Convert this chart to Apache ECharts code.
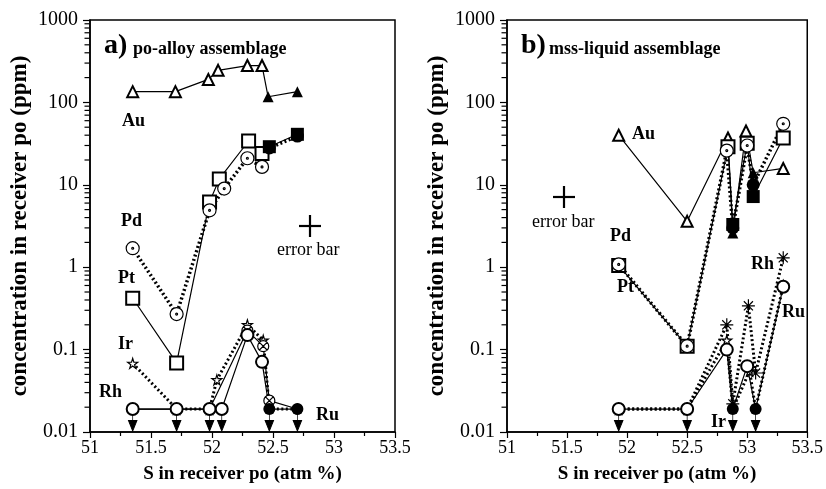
<!DOCTYPE html>
<html>
<head>
<meta charset="utf-8">
<script src="https://cdn.jsdelivr.net/npm/echarts@6/dist/echarts.min.js"></script>
<style>html,body{margin:0;padding:0;background:#fff}#main{width:826px;height:489px}</style>
</head>
<body>
<div id="main"></div>
<script>
// [S atm %, ppm, filled?]
var auA = [[51.35,135,0],[51.70,135,0],[51.97,190,0],[52.05,245,0],[52.29,280,0],[52.41,280,0],[52.46,117,1],[52.70,135,1]];
var ptA = [[51.35,0.42,0],[51.71,0.069,0],[51.98,6.2,0],[52.06,11.8,0],[52.30,34,0],[52.41,24,0],[52.47,29,1],[52.70,41,1]];
var pdA = [[51.35,1.7,0],[51.71,0.27,0],[51.98,4.9,0],[52.10,9.0,0],[52.29,21,0],[52.41,16.5,0],[52.47,28,1],[52.70,39,1]];
var irA = [[51.35,0.068,0],[51.71,0.019,0],[51.98,0.019,0],[52.04,0.043,0],[52.29,0.20,0],[52.42,0.13,0],[52.47,0.019,1],[52.70,0.019,1]];
var rhA = [[51.35,0.019,0],[51.71,0.019,0],[51.98,0.019,0],[52.29,0.17,0],[52.42,0.11,0],[52.47,0.024,0],[52.70,0.019,1]];
var ruA = [[51.35,0.019,0],[51.71,0.019,0],[51.98,0.019,0],[52.08,0.019,0],[52.29,0.15,0],[52.41,0.071,0],[52.47,0.019,1],[52.70,0.019,1]];

var auB = [[51.93,40,0],[52.50,3.6,0],[52.84,37,0],[52.88,2.6,1],[52.99,45,0],[53.05,14,1],[53.30,15.8,0]];
var ptB = [[51.93,1.05,0],[52.50,0.11,0],[52.84,29,0],[52.88,3.3,1],[53.00,32,0],[53.05,7.2,1],[53.30,37,0]];
var pdB = [[51.93,1.08,0],[52.50,0.11,0],[52.83,26,0],[52.88,3.0,1],[53.00,30,0],[53.05,10,1],[53.30,55,0]];
var rhB = [[51.93,0.019,0],[52.50,0.019,0],[52.83,0.20,0],[52.88,0.022,0],[53.01,0.34,0],[53.07,0.052,0],[53.30,1.3,0]];
var ruB = [[51.93,0.019,0],[52.50,0.019,0],[52.83,0.10,0],[52.88,0.019,1],[53.00,0.063,0],[53.07,0.019,1],[53.30,0.58,0]];
var irB = [[51.93,0.019,0],[52.50,0.019,0],[52.83,0.13,0],[52.88,0.019,1],[53.02,0.055,0],[53.07,0.019,1],[53.30,0.60,0]];

// below-detection arrows
var arrowsA = [51.35, 51.71, 51.98, 52.08, 52.47, 52.70];
var arrowsB = [51.93, 52.50, 52.88, 53.07];
var arrowLevel = 0.014;

var minorY = [];
[0.01, 0.1, 1, 10, 100].forEach(function (d) {
  for (var k = 2; k <= 9; k++) minorY.push(+(d * k).toPrecision(3));
});

var FONT = 'Liberation Serif';
var STAR = 'path://M50,0 L61,35 L98,35 L68,57 L79,91 L50,70 L21,91 L32,57 L2,35 L39,35 Z';
var XCIRC = 'path://M20,10 A10,10 0 1,1 0,10 A10,10 0 1,1 20,10 Z M3,3 L17,17 M17,3 L3,17';
var DOTCIRC = 'path://M20,10 A10,10 0 1,1 0,10 A10,10 0 1,1 20,10 Z M11.5,10 A1.5,1.5 0 1,1 8.5,10 A1.5,1.5 0 1,1 11.5,10 Z';
var ASTER = 'path://M0,10 L20,10 M10,0 L10,20 M3,3 L17,17 M17,3 L3,17';
var ARROW = 'path://M4,0 L4,12 M0,12 L8,12 L4,22 Z';
var TICK = 'path://M0,0 L10,0 L10,2 L0,2 Z';

function mk(pts, g, sym, symF, size, line, hollowPath) {
  return {
    type: 'line', xAxisIndex: g, yAxisIndex: g,
    showAllSymbol: true, symbolSize: size,
    lineStyle: line,
    itemStyle: { color: '#000', opacity: 1 },
    data: pts.map(function (p) {
      var it = { value: [p[0], p[1]], symbol: p[2] ? symF : sym };
      if (!p[2] && hollowPath) it.itemStyle = { color: '#fff', borderColor: '#000', borderWidth: 1.2 };
      return it;
    }),
    z: 3
  };
}

var solid = { color: '#000', width: 1.2, type: 'solid' };
var dots = { color: '#000', width: 3.5, type: [2, 2.5] };
var dots2 = { color: '#000', width: 3, type: [2, 2.5] };

function arrows(xs, g) {
  return {
    type: 'scatter', xAxisIndex: g, yAxisIndex: g, symbol: ARROW, symbolSize: [8, 22],
    itemStyle: { color: '#000', borderColor: '#000', borderWidth: 1.2, opacity: 1 },
    data: xs.map(function (x) { return [x, arrowLevel]; }), z: 2
  };
}

// minor log ticks at 2..9 on the y axis
function minor(g) {
  return {
    type: 'scatter', xAxisIndex: g, yAxisIndex: g, silent: true, clip: false,
    symbol: TICK, symbolSize: [5, 1.2], symbolOffset: [-3, 0],
    itemStyle: { color: '#000', opacity: 1 },
    data: minorY.map(function (v) { return [51, v]; }), z: 5
  };
}

function xAx(g) {
  return {
    gridIndex: g, type: 'value', min: 51, max: 53.5, interval: 0.5,
    name: 'S in receiver po (atm %)', nameLocation: 'middle', nameGap: 33,
    nameTextStyle: { fontFamily: FONT, fontWeight: 'bold', fontSize: 19, color: '#000' },
    axisLine: { lineStyle: { color: '#000', width: 1.5 } },
    axisTick: { inside: false, length: 6, lineStyle: { color: '#000', width: 1.2 } },
    minorTick: { show: true, splitNumber: 2, length: 4, lineStyle: { color: '#000', width: 1.2 } },
    axisLabel: { fontFamily: FONT, fontSize: 18, color: '#000', margin: 7 },
    splitLine: { show: false }
  };
}
function yAx(g) {
  return {
    gridIndex: g, type: 'log', logBase: 10, min: 0.01, max: 1000,
    name: 'concentration in receiver po (ppm)', nameLocation: 'middle', nameGap: 58,
    nameTextStyle: { fontFamily: FONT, fontWeight: 'bold', fontSize: 23, color: '#000' },
    axisLine: { lineStyle: { color: '#000', width: 1.5 } },
    axisTick: { inside: false, length: 7, lineStyle: { color: '#000', width: 1.2 } },
    axisLabel: { fontFamily: FONT, fontSize: 20, color: '#000', margin: 12,
      formatter: function (v) { return String(+v.toPrecision(3)); } },
    splitLine: { show: false }
  };
}

function txt(x, y, s, size, bold) {
  return { type: 'text', left: x, top: y, style: { text: s, fill: '#000',
    font: (bold ? 'bold ' : '') + size + 'px "' + FONT + '"' }, z: 10 };
}
function cross(cx, cy) {
  return [
    { type: 'line', shape: { x1: cx - 11, y1: cy, x2: cx + 11, y2: cy }, style: { stroke: '#000', lineWidth: 2.2 } },
    { type: 'line', shape: { x1: cx, y1: cy - 11, x2: cx, y2: cy + 11 }, style: { stroke: '#000', lineWidth: 2.2 } }
  ];
}

var chart = echarts.init(document.getElementById('main'));
chart.setOption({
  animation: false,
  grid: [
    { left: 90, top: 20, width: 305, height: 412, show: true, borderColor: '#000', borderWidth: 1.5 },
    { left: 507, top: 20, width: 305, height: 412, show: true, borderColor: '#000', borderWidth: 1.5 }
  ],
  xAxis: [xAx(0), xAx(1)],
  yAxis: [yAx(0), yAx(1)],
  graphic: [
    txt(104, 32, 'a)', 28, true), txt(133, 40, 'po-alloy assemblage', 18, true),
    txt(122, 112, 'Au', 18, true), txt(121, 212, 'Pd', 18, true), txt(118, 269, 'Pt', 18, true),
    txt(118, 335, 'Ir', 18, true), txt(99, 383, 'Rh', 18, true), txt(316, 406, 'Ru', 18, true),
    txt(277, 241, 'error bar', 18, false),
    txt(521, 32, 'b)', 28, true), txt(549, 40, 'mss-liquid assemblage', 18, true),
    txt(632, 125, 'Au', 18, true), txt(610, 227, 'Pd', 18, true), txt(617, 278, 'Pt', 18, true),
    txt(751, 255, 'Rh', 18, true), txt(782, 303, 'Ru', 18, true), txt(711, 413, 'Ir', 18, true),
    txt(532, 213, 'error bar', 18, false)
  ].concat(cross(310, 226), cross(564, 197)),
  series: [
    minor(0), minor(1), arrows(arrowsA, 0), arrows(arrowsB, 1),
    mk(auA, 0, 'emptyTriangle', 'triangle', 11, solid),
    mk(ptA, 0, 'emptyRect', 'rect', 13, solid),
    mk(pdA, 0, DOTCIRC, 'circle', 13, dots, true),
    mk(irA, 0, STAR, 'circle', 10, dots2, true),
    mk(rhA, 0, XCIRC, 'circle', 11, solid, true),
    mk(ruA, 0, 'emptyCircle', 'circle', 12, solid),
    mk(auB, 1, 'emptyTriangle', 'triangle', 11, solid),
    mk(ptB, 1, 'emptyRect', 'rect', 13, solid),
    mk(pdB, 1, DOTCIRC, 'circle', 13, dots, true),
    mk(irB, 1, STAR, 'circle', 10, dots2, true),
    mk(rhB, 1, ASTER, 'circle', 13, dots2, true),
    mk(ruB, 1, 'emptyCircle', 'circle', 12, solid)
  ]
});
</script>
</body>
</html>
